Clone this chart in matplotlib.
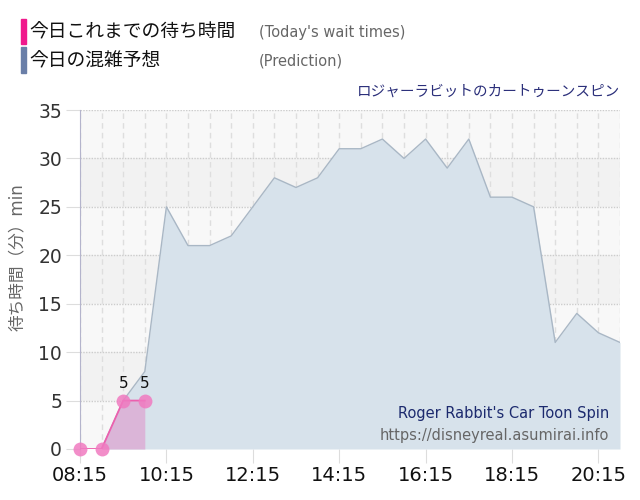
import matplotlib
matplotlib.use("Agg")
import matplotlib.pyplot as plt
from matplotlib.patches import Rectangle

plt.rcParams['font.family'] = ['DejaVu Sans', 'Noto Sans CJK JP']

# ---- data ----
wait_times = ["08:15", "08:45", "09:15", "09:45"]
wait_values = [0, 0, 5, 5]

pred_times = ["08:45", "09:15", "09:45", "10:15", "10:45", "11:15", "11:45",
              "12:15", "12:45", "13:15", "13:45", "14:15", "14:45", "15:15",
              "15:45", "16:15", "16:45", "17:15", "17:45", "18:15", "18:45",
              "19:15", "19:45", "20:15", "20:45"]
pred_values = [0, 5, 8, 25, 21, 21, 22, 25, 28, 27, 28, 31, 31, 32,
               30, 32, 29, 32, 26, 26, 25, 11, 14, 12, 11]

x_tick_labels = ["08:15", "10:15", "12:15", "14:15", "16:15", "18:15", "20:15"]
y_ticks = [0, 5, 10, 15, 20, 25, 30, 35]

title_jp = "ロジャーラビットのカートゥーンスピン"
title_en = "Roger Rabbit's Car Toon Spin"
url = "https://disneyreal.asumirai.info"
legend_items = [("今日これまでの待ち時間", "(Today's wait times)", "#f0198c"),
                ("今日の混雑予想", "(Prediction)", "#6a7fa8")]
y_label = "待ち時間（分）min"


def to_h(t):
    h, m = t.split(":")
    return int(h) + int(m) / 60.0


wx = [to_h(t) for t in wait_times]
px = [to_h(t) for t in pred_times]
x_min, x_max = to_h("08:15"), to_h("20:45")

fig = plt.figure(figsize=(6.4, 5.0), dpi=100)
ax = fig.add_axes([80 / 640, 51 / 500, (620 - 80) / 640, (449 - 110) / 500])

ax.set_facecolor("#f8f8f8")
for lo in (5, 15, 25):
    ax.axhspan(lo, lo + 5, color="#f2f2f2", zorder=0, lw=0)

ax.set_xlim(x_min, x_max)
ax.set_ylim(0, 35)

# grid
for k in range(int((x_max - x_min) * 2) + 1):
    xv = x_min + k * 0.5
    ax.axvline(xv, color="#dedede", lw=1, ls=(0, (4, 3)), zorder=1)
for yv in y_ticks:
    ax.axhline(yv, color="#cccccc", lw=1, ls=(0, (1, 1)), zorder=1)

# prediction
ax.fill_between(px, pred_values, 0, color="#d7e2eb", zorder=2, lw=0)
ax.plot(px, pred_values, color="#a9b7c5", lw=1, zorder=3)

# wait times
ax.fill_between(wx, wait_values, 0, color="#dbb5d8", zorder=4, lw=0)
ax.plot(wx, wait_values, color="#ec5fae", lw=1.3, zorder=5)
ax.plot(wx, wait_values, "o", ms=10, color="#f07ac0", alpha=0.85,
        mec="none", zorder=6, clip_on=False)
for xv, yv in zip(wx, wait_values):
    if yv > 0:
        ax.annotate(str(yv), (xv, yv), xytext=(0, 7), textcoords="offset points",
                    ha="center", va="bottom", fontsize=11, color="#111111", zorder=7)

# ticks
ax.set_xticks([to_h(t) for t in x_tick_labels])
ax.set_xticklabels(x_tick_labels, fontsize=14, color="#111111")
ax.set_yticks(y_ticks)
ax.set_yticklabels([str(v) for v in y_ticks], fontsize=13.5, color="#333333")
ax.tick_params(axis="x", length=10, color="#dddddd", pad=2)
ax.tick_params(axis="y", length=10, color="#dddddd", pad=3)

for s in ("top", "right", "bottom"):
    ax.spines[s].set_visible(False)
ax.spines["left"].set_color("#b4b4cc")
ax.spines["left"].set_linewidth(0.8)

ax.set_ylabel(y_label, fontsize=12, color="#666666")
ax.yaxis.set_label_coords(-0.1, 0.566)

# texts
ax.text(0.98, 0.105, title_en, transform=ax.transAxes, ha="right", va="center",
        fontsize=10.5, color="#1c2a6e", zorder=8)
ax.text(0.98, 0.04, url, transform=ax.transAxes, ha="right", va="center",
        fontsize=10.5, color="#666666", zorder=8)
fig.text(620 / 640, 1 - 91 / 500, title_jp, ha="right", va="center",
         fontsize=10.5, color="#2b2f7a")

# legend
for i, (jp, en, col) in enumerate(legend_items):
    yc = 1 - (32 + i * 28.5) / 500
    fig.patches.append(Rectangle((21 / 640, yc - 12 / 500), 5 / 640, 25 / 500,
                                 transform=fig.transFigure, color=col))
    fig.text(29 / 640, yc, jp, ha="left", va="center", fontsize=13.5, color="#111111")
    fig.text(259 / 640, yc, en, ha="left", va="center", fontsize=10.5, color="#666666")

fig.savefig("out.png", dpi=100)
